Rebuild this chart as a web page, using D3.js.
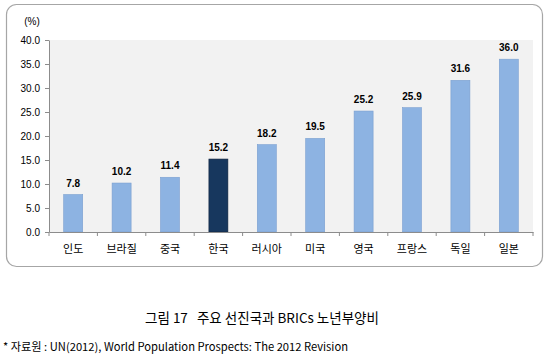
<!DOCTYPE html>
<html><head><meta charset="utf-8">
<script src="https://cdn.jsdelivr.net/npm/d3@7"></script>
<style>
body{margin:0;background:#fff;}
svg{display:block;font-family:"Liberation Sans","Noto Sans CJK KR",sans-serif;}
</style></head>
<body>
<script>
const categories = ["인도","브라질","중국","한국","러시아","미국","영국","프랑스","독일","일본"];
const values = [7.8,10.2,11.4,15.2,18.2,19.5,25.2,25.9,31.6,36.0];
const highlight = "한국";
const yTicks = [0,5,10,15,20,25,30,35,40];
const unitLabel = "(%)";
const title = "그림 17   주요 선진국과 BRICs 노년부양비";
const source = "* 자료원 : UN(2012), World Population Prospects: The 2012 Revision";

const W = 550, H = 355;
const svg = d3.select("body").append("svg").attr("width", W).attr("height", H);

// outer rounded frame
svg.append("rect").attr("x",6.5).attr("y",4.5).attr("width",536).attr("height",262)
  .attr("rx",10).attr("fill","#fff").attr("stroke","#a6a6a6").attr("stroke-width",1.2);

const m = {left:49, right:533, top:40, bottom:232};
const xb = d3.scaleBand().domain(categories).range([m.left, m.right]).padding(0);
const y = d3.scaleLinear().domain([0,40]).range([m.bottom, m.top]);

// plot background
svg.append("rect").attr("x",m.left).attr("y",m.top).attr("width",m.right-m.left).attr("height",m.bottom-m.top)
  .attr("fill","#f2f2f2");

// bars
svg.selectAll("rect.bar").data(categories).enter().append("rect").attr("class","bar")
  .attr("x", d => xb(d) + xb.bandwidth()/2 - 9.5)
  .attr("width", 19)
  .attr("y", (d,i) => y(values[i]))
  .attr("height", (d,i) => y(0) - y(values[i]))
  .attr("fill", d => d === highlight ? "#17375e" : "#8db3e2")
  .attr("stroke", d => d === highlight ? "#10243e" : "#7a9fd0")
  .attr("stroke-width", 0.6);

// value labels
svg.selectAll("text.val").data(categories).enter().append("text").attr("class","val")
  .attr("x", d => xb(d) + xb.bandwidth()/2)
  .attr("y", (d,i) => y(values[i]) - 8)
  .attr("text-anchor","middle").attr("font-size",10).attr("font-weight","bold").attr("fill","#000")
  .text((d,i) => values[i].toFixed(1));

// y axis
const yAxis = d3.axisLeft(y).tickValues(yTicks).tickFormat(d3.format(".1f")).tickSize(4).tickSizeOuter(0);
const gy = svg.append("g").attr("transform",`translate(${m.left},0)`).call(yAxis);
gy.select(".domain").attr("stroke","#8c8c8c");
gy.selectAll(".tick line").attr("stroke","#8c8c8c");
gy.selectAll(".tick text").attr("font-size",10).attr("fill","#000").attr("x",-9)
  .attr("font-family","Liberation Sans, sans-serif");

// x axis
const xAxis = d3.axisBottom(xb).tickSize(0).tickSizeOuter(0);
const gx = svg.append("g").attr("transform",`translate(0,${m.bottom})`).call(xAxis);
gx.select(".domain").attr("stroke","#8c8c8c");
gx.selectAll(".tick text").attr("font-size",11).attr("fill","#000").attr("dy",0).attr("y",21)
  .attr("font-family","Noto Sans CJK KR, sans-serif");
// boundary tick marks between categories
const bounds = categories.map(c => xb(c)).concat([m.right]);
svg.selectAll("line.bt").data(bounds).enter().append("line").attr("class","bt")
  .attr("x1", d=>d).attr("x2", d=>d).attr("y1", m.bottom).attr("y2", m.bottom+4)
  .attr("stroke","#8c8c8c");

// unit label
svg.append("text").attr("x",32).attr("y",25).attr("text-anchor","middle")
  .attr("font-size",10).attr("fill","#000").text(unitLabel);

// title
svg.append("text").attr("x",262).attr("y",323).attr("text-anchor","middle")
  .attr("font-size",13.5).attr("fill","#000").attr("font-family","Noto Sans CJK KR, sans-serif")
  .style("white-space","pre").text(title);

// source
svg.append("text").attr("x",3).attr("y",351).attr("font-size",11.2).attr("fill","#000")
  .attr("font-family","Noto Sans CJK KR, sans-serif").text(source);
</script>
</body></html>
